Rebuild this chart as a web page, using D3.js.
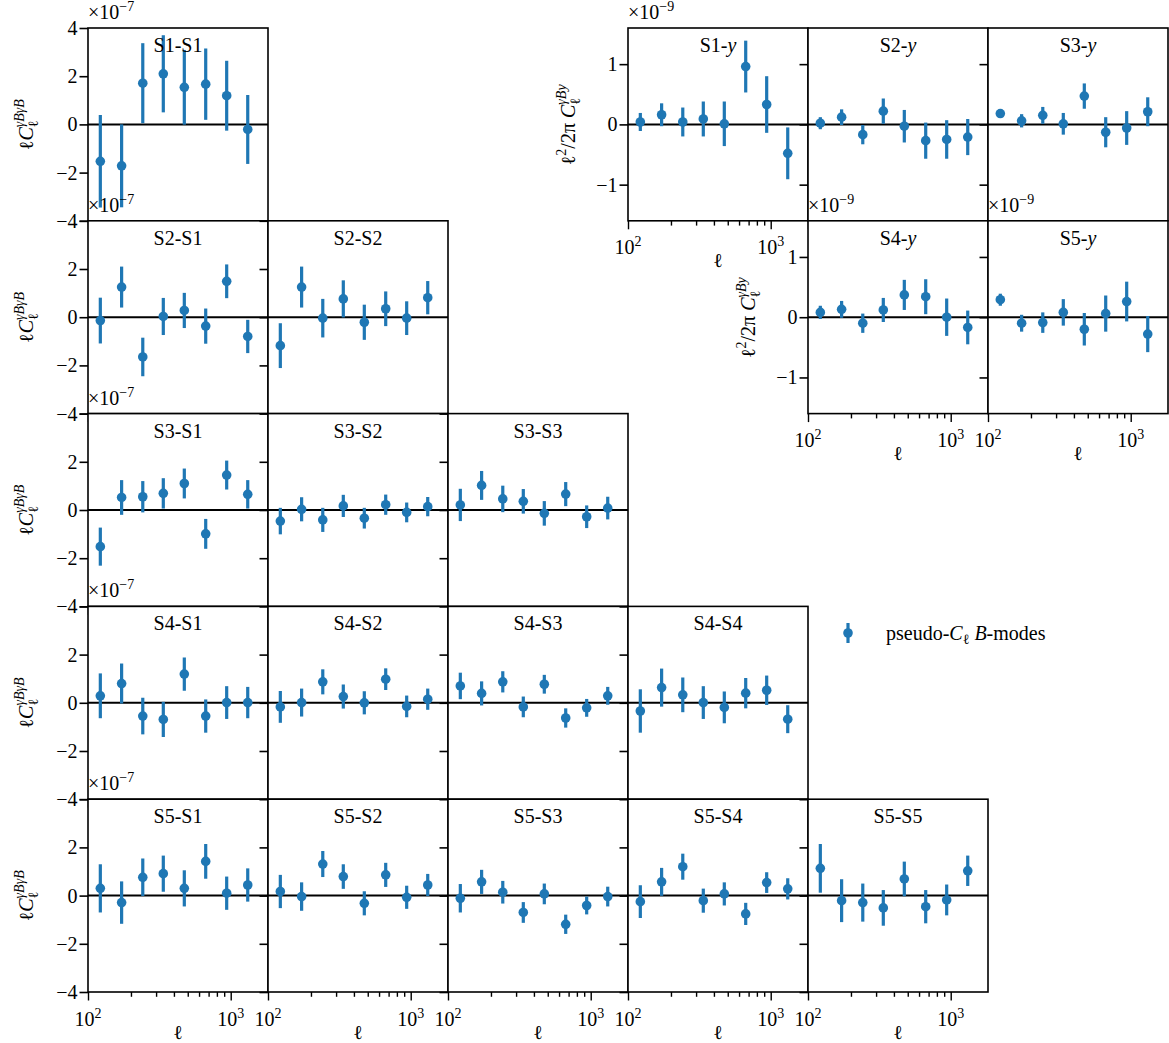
<!DOCTYPE html>
<html>
<head>
<meta charset="utf-8">
<script src="https://cdn.jsdelivr.net/npm/d3@7"></script>
<style>
  body { margin: 0; background: #fff; }
  text { font-family: "Liberation Serif", "Times New Roman", "DejaVu Serif", serif; fill: #000; }
</style>
</head>
<body>
<svg id="fig" width="1169" height="1043"></svg>
<script>
// multipole bin centres
const ell = [122, 172, 242, 337, 473, 668, 937, 1316];

// shear B-mode x shear B-mode, units of 1e-7
const S1_S1 = [-1.53, -1.72, 1.71, 2.10, 1.54, 1.67, 1.19, -0.21];
const S1_S1_err = [1.92, 1.72, 1.66, 1.60, 1.55, 1.48, 1.45, 1.43];
const S2_S1 = [-0.14, 1.25, -1.65, 0.03, 0.28, -0.37, 1.49, -0.80];
const S2_S1_err = [0.95, 0.85, 0.80, 0.77, 0.73, 0.73, 0.70, 0.69];
const S2_S2 = [-1.18, 1.25, -0.04, 0.76, -0.21, 0.35, -0.04, 0.81];
const S2_S2_err = [0.93, 0.85, 0.80, 0.77, 0.73, 0.72, 0.70, 0.69];
const S3_S1 = [-1.52, 0.52, 0.55, 0.69, 1.10, -0.99, 1.45, 0.65];
const S3_S1_err = [0.79, 0.72, 0.65, 0.63, 0.62, 0.62, 0.60, 0.59];
const S3_S2 = [-0.46, 0.03, -0.41, 0.17, -0.34, 0.22, -0.10, 0.14];
const S3_S2_err = [0.55, 0.50, 0.50, 0.46, 0.43, 0.42, 0.41, 0.40];
const S3_S3 = [0.21, 1.02, 0.46, 0.36, -0.14, 0.66, -0.28, 0.08];
const S3_S3_err = [0.67, 0.60, 0.55, 0.51, 0.51, 0.50, 0.47, 0.47];
const S4_S1 = [0.29, 0.80, -0.55, -0.69, 1.19, -0.55, 0.01, 0.01];
const S4_S1_err = [0.93, 0.83, 0.76, 0.73, 0.69, 0.69, 0.68, 0.65];
const S4_S2 = [-0.17, 0.01, 0.87, 0.26, 0.00, 0.98, -0.15, 0.15];
const S4_S2_err = [0.66, 0.58, 0.52, 0.50, 0.48, 0.45, 0.45, 0.44];
const S4_S3 = [0.70, 0.39, 0.87, -0.17, 0.77, -0.63, -0.21, 0.29];
const S4_S3_err = [0.55, 0.50, 0.44, 0.43, 0.39, 0.40, 0.37, 0.37];
const S4_S4 = [-0.34, 0.63, 0.33, 0.01, -0.19, 0.40, 0.52, -0.68];
const S4_S4_err = [0.90, 0.79, 0.72, 0.68, 0.66, 0.63, 0.61, 0.58];
const S5_S1 = [0.30, -0.29, 0.76, 0.91, 0.30, 1.42, 0.10, 0.44];
const S5_S1_err = [1.00, 0.88, 0.78, 0.75, 0.75, 0.72, 0.69, 0.69];
const S5_S2 = [0.17, -0.04, 1.31, 0.79, -0.32, 0.86, -0.07, 0.44];
const S5_S2_err = [0.69, 0.59, 0.54, 0.51, 0.50, 0.50, 0.48, 0.46];
const S5_S3 = [-0.11, 0.57, 0.14, -0.70, 0.07, -1.19, -0.41, -0.04];
const S5_S3_err = [0.59, 0.50, 0.47, 0.43, 0.43, 0.40, 0.37, 0.41];
const S5_S4 = [-0.25, 0.57, 1.20, -0.21, 0.07, -0.76, 0.54, 0.28];
const S5_S4_err = [0.68, 0.58, 0.54, 0.50, 0.48, 0.46, 0.43, 0.44];
const S5_S5 = [1.13, -0.21, -0.29, -0.51, 0.69, -0.46, -0.18, 1.03];
const S5_S5_err = [1.01, 0.89, 0.79, 0.74, 0.72, 0.69, 0.64, 0.63];

// shear B-mode x tSZ y, units of 1e-9
const S1_y = [0.04, 0.16, 0.04, 0.09, 0.01, 0.96, 0.33, -0.48];
const S1_y_err = [0.15, 0.19, 0.24, 0.29, 0.37, 0.43, 0.47, 0.43];
const S2_y = [0.02, 0.12, -0.17, 0.22, -0.03, -0.27, -0.25, -0.21];
const S2_y_err = [0.10, 0.13, 0.16, 0.21, 0.27, 0.30, 0.32, 0.30];
const S3_y = [0.18, 0.06, 0.15, 0.01, 0.47, -0.13, -0.06, 0.21];
const S3_y_err = [0.06, 0.11, 0.14, 0.18, 0.21, 0.25, 0.28, 0.24];
const S4_y = [0.08, 0.13, -0.10, 0.12, 0.37, 0.34, 0.00, -0.17];
const S4_y_err = [0.11, 0.14, 0.16, 0.20, 0.25, 0.29, 0.31, 0.28];
const S5_y = [0.29, -0.10, -0.09, 0.08, -0.20, 0.06, 0.26, -0.28];
const S5_y_err = [0.10, 0.14, 0.17, 0.22, 0.27, 0.30, 0.33, 0.30];

const bbTicks = [-4, -2, 0, 2, 4];
const byTicks = [-1, 0, 1];
const xMajor = [100, 1000];
const xMinor = [200, 300, 400, 500, 600, 700, 800, 900];

// layout
const X0 = 88, Y0 = 28, PW = 180, PH = 192.8;
const TICK = 8.5, MINOR = 4.8;
const BLUE = "#1f77b4";

const svg = d3.select("#fig");

const minus = d => d < 0 ? "\u2212" + (-d) : String(d);

// text with italic pieces, sub/superscripts; back = start at x of previous piece
function rich(parent, pieces, size) {
  const t = parent.append("text").attr("font-size", size);
  let cur = 0, prevLen = 0;
  pieces.forEach(p => {
    const sh = p.sh || 0;
    const ts = t.append("tspan").text(p.t)
      .attr("font-size", p.s || size)
      .attr("font-style", p.i ? "italic" : "normal")
      .attr("dy", sh - cur);
    if (p.back) ts.attr("dx", -prevLen);
    cur = sh;
    prevLen = ts.node().getComputedTextLength();
  });
  return t;
}

function yLabel(cx, cy, pieces) {
  const g = svg.append("g").attr("transform", `translate(${cx},${cy}) rotate(-90)`);
  const t = rich(g, pieces, 20);
  const w = t.node().getBBox().width;
  t.attr("x", -w / 2);
}

function powerLabel(parent, x, y, base, exp, anchor) {
  const t = parent.append("text").attr("x", x).attr("y", y)
    .attr("font-size", 20).attr("text-anchor", anchor);
  t.append("tspan").text(base);
  t.append("tspan").text(exp).attr("font-size", 14).attr("dy", -8);
  return t;
}

function panel(p, kind) {
  const x0 = X0 + p.col * PW, y0 = Y0 + p.row * PH;
  const x = d3.scaleLog().domain([100, 1825]).range([x0, x0 + PW]);
  const y = d3.scaleLinear().domain(kind === "bb" ? [-4, 4] : [-1.6, 1.6]).range([y0 + PH, y0]);
  const g = svg.append("g");

  g.append("rect").attr("x", x0).attr("y", y0).attr("width", PW).attr("height", PH)
    .attr("fill", "#fff");

  // zero line
  g.append("line").attr("x1", x0).attr("x2", x0 + PW).attr("y1", y(0)).attr("y2", y(0))
    .attr("stroke", "#000").attr("stroke-width", 2);

  const pts = d3.zip(ell, p.v, p.e);
  g.selectAll(null).data(pts).enter().append("line")
    .attr("x1", d => x(d[0])).attr("x2", d => x(d[0]))
    .attr("y1", d => y(d[1] - d[2])).attr("y2", d => y(d[1] + d[2]))
    .attr("stroke", BLUE).attr("stroke-width", 3.2);
  g.selectAll(null).data(pts).enter().append("circle")
    .attr("cx", d => x(d[0])).attr("cy", d => y(d[1])).attr("r", 4.8)
    .attr("fill", BLUE);

  // spines
  g.append("rect").attr("x", x0).attr("y", y0).attr("width", PW).attr("height", PH)
    .attr("fill", "none").attr("stroke", "#000").attr("stroke-width", 1.6);

  // y axis; the top "4" sits under the "-4" of the panel above, so skip it there
  const fmt = d => (!p.yl || (kind === "bb" && p.row > 0 && d === 4)) ? "" : minus(d);
  const ya = g.append("g").attr("transform", `translate(${x0},0)`)
    .call(d3.axisLeft(y).tickValues(kind === "bb" ? bbTicks : byTicks)
      .tickSize(TICK).tickPadding(2).tickFormat(fmt));
  ya.select(".domain").remove();
  ya.selectAll("line").attr("stroke-width", 1.6);
  ya.selectAll("text").attr("font-size", 20);

  // x axis, major and minor ticks
  const yb = y0 + PH;
  [[xMajor, TICK], [xMinor, MINOR]].forEach(([vals, len]) => {
    const xa = g.append("g").attr("transform", `translate(0,${yb})`)
      .call(d3.axisBottom(x).tickValues(vals).tickSize(len).tickFormat(() => ""));
    xa.select(".domain").remove();
    xa.selectAll("line").attr("stroke-width", 1.4);
  });
  if (p.xl) {
    powerLabel(g, x(100), yb + 33.5, "10", "2", "middle");
    powerLabel(g, x(1000), yb + 33.5, "10", "3", "middle");
    g.append("text").attr("x", x0 + PW / 2).attr("y", yb + 46.5)
      .attr("font-size", 20).attr("text-anchor", "middle").text("\u2113");
  }

  // title
  const title = g.append("text").attr("x", x0 + PW / 2).attr("y", y0 + 24)
    .attr("font-size", 20).attr("text-anchor", "middle");
  if (kind === "bb") {
    title.text(p.name);
  } else {
    title.append("tspan").text(p.name + "-");
    title.append("tspan").text("y").attr("font-style", "italic");
  }

  // offset text
  if (p.off) powerLabel(g, x0, y0 - 9, "\u00d710", kind === "bb" ? "\u22127" : "\u22129", "start");

  // y label
  if (p.yl) {
    if (kind === "bb") {
      yLabel(x0 - 55, y0 + PH / 2, [
        { t: "\u2113" }, { t: "C", i: true },
        { t: "\u03b3B\u03b3B", i: true, s: 14, sh: -9 },
        { t: "\u2113", s: 14, sh: 5, back: true }
      ]);
    } else {
      yLabel(x0 - 53, y0 + PH / 2, [
        { t: "\u2113" }, { t: "2", s: 14, sh: -9 }, { t: "/2\u03c0 " },
        { t: "C", i: true },
        { t: "\u03b3By", i: true, s: 14, sh: -9 },
        { t: "\u2113", s: 14, sh: 5, back: true }
      ]);
    }
  }
}

const bbPanels = [
  { name: "S1-S1", row: 0, col: 0, v: S1_S1, e: S1_S1_err },
  { name: "S2-S1", row: 1, col: 0, v: S2_S1, e: S2_S1_err },
  { name: "S2-S2", row: 1, col: 1, v: S2_S2, e: S2_S2_err },
  { name: "S3-S1", row: 2, col: 0, v: S3_S1, e: S3_S1_err },
  { name: "S3-S2", row: 2, col: 1, v: S3_S2, e: S3_S2_err },
  { name: "S3-S3", row: 2, col: 2, v: S3_S3, e: S3_S3_err },
  { name: "S4-S1", row: 3, col: 0, v: S4_S1, e: S4_S1_err },
  { name: "S4-S2", row: 3, col: 1, v: S4_S2, e: S4_S2_err },
  { name: "S4-S3", row: 3, col: 2, v: S4_S3, e: S4_S3_err },
  { name: "S4-S4", row: 3, col: 3, v: S4_S4, e: S4_S4_err },
  { name: "S5-S1", row: 4, col: 0, v: S5_S1, e: S5_S1_err },
  { name: "S5-S2", row: 4, col: 1, v: S5_S2, e: S5_S2_err },
  { name: "S5-S3", row: 4, col: 2, v: S5_S3, e: S5_S3_err },
  { name: "S5-S4", row: 4, col: 3, v: S5_S4, e: S5_S4_err },
  { name: "S5-S5", row: 4, col: 4, v: S5_S5, e: S5_S5_err }
];
bbPanels.forEach(p => {
  p.yl = p.col === 0;
  p.off = p.col === 0;
  p.xl = p.row === 4;
  panel(p, "bb");
});

const byPanels = [
  { name: "S1", row: 0, col: 3, v: S1_y, e: S1_y_err, yl: true, xl: true, off: true },
  { name: "S2", row: 0, col: 4, v: S2_y, e: S2_y_err },
  { name: "S3", row: 0, col: 5, v: S3_y, e: S3_y_err },
  { name: "S4", row: 1, col: 4, v: S4_y, e: S4_y_err, yl: true, xl: true, off: true },
  { name: "S5", row: 1, col: 5, v: S5_y, e: S5_y_err, xl: true, off: true }
];
byPanels.forEach(p => panel(p, "by"));

// legend
const lg = svg.append("g");
lg.append("line").attr("x1", 848).attr("x2", 848).attr("y1", 623).attr("y2", 643)
  .attr("stroke", BLUE).attr("stroke-width", 3.2);
lg.append("circle").attr("cx", 848).attr("cy", 633).attr("r", 4.8).attr("fill", BLUE);
const lt = lg.append("text").attr("x", 886).attr("y", 640).attr("font-size", 20);
lt.append("tspan").text("pseudo-");
lt.append("tspan").text("C").attr("font-style", "italic");
lt.append("tspan").text("\u2113").attr("font-size", 14).attr("dy", 4);
lt.append("tspan").text(" ").attr("dy", -4);
lt.append("tspan").text("B").attr("font-style", "italic");
lt.append("tspan").text("-modes");
</script>
</body>
</html>
